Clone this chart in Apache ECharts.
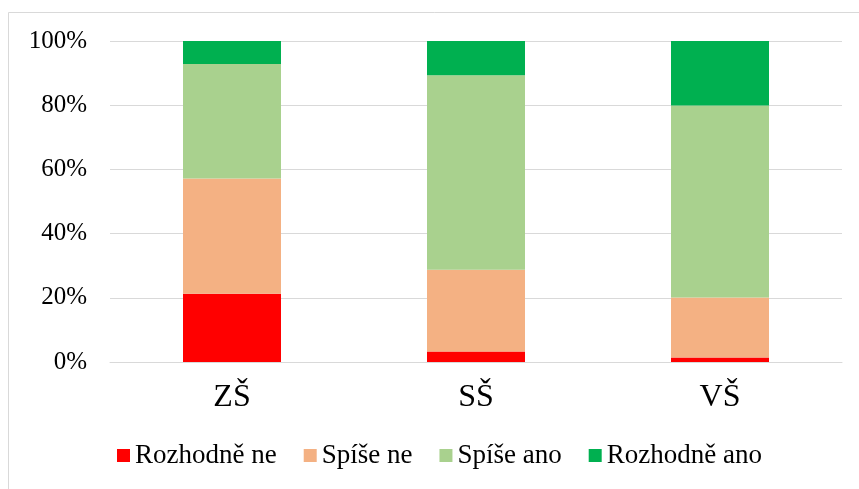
<!DOCTYPE html>
<html>
<head>
<meta charset="utf-8">
<script src="https://cdn.jsdelivr.net/npm/echarts@6/dist/echarts.min.js"></script>
<style>html,body{margin:0;padding:0;background:#fff}#c{width:859px;height:489px}</style>
</head>
<body>
<div id="c"></div>
<script>
const categories = ['ZŠ', 'SŠ', 'VŠ'];
const seriesNames = ['Rozhodně ne', 'Spíše ne', 'Spíše ano', 'Rozhodně ano'];
const rozhodneNe = [21.3, 3.3, 1.4];
const spiseNe = [35.9, 25.4, 18.7];
const spiseAno = [35.6, 60.6, 59.8];
const rozhodneAno = [7.2, 10.7, 20.1];
const yTicks = [0, 20, 40, 60, 80, 100];
const colors = ['#FF0000', '#F4B183', '#A9D18E', '#00B050'];
const values = [rozhodneNe, spiseNe, spiseAno, rozhodneAno];
const font = '"Liberation Serif", "Times New Roman", serif';

const chart = echarts.init(document.getElementById('c'), null, {renderer: 'canvas'});
chart.setOption({
  animation: false,
  backgroundColor: '#fff',
  textStyle: {fontFamily: font, color: '#000'},
  graphic: [{
    type: 'rect', silent: true,
    shape: {x: 8.5, y: 12.5, width: 1000, height: 1000},
    style: {fill: 'none', stroke: '#d9d9d9', lineWidth: 1}
  }],
  grid: {left: 110, right: 17, top: 41, bottom: 127, containLabel: false},
  legend: {
    data: seriesNames,
    left: 117, top: 442,
    itemWidth: 13, itemHeight: 13, itemGap: 27,
    icon: 'rect',
    padding: 0,
    textStyle: {fontFamily: font, fontSize: 27, color: '#000', padding: [0, 0, 0, 0]}
  },
  xAxis: {
    type: 'category',
    data: categories,
    axisLine: {show: true, lineStyle: {color: '#d9d9d9', width: 1}},
    axisTick: {show: false},
    axisLabel: {fontFamily: font, fontSize: 32, color: '#000', margin: 20}
  },
  yAxis: {
    type: 'value',
    min: 0, max: 100, interval: 20,
    axisLine: {show: false},
    axisTick: {show: false},
    splitLine: {show: true, lineStyle: {color: '#d9d9d9', width: 1}},
    axisLabel: {
      fontFamily: font, fontSize: 25, color: '#000', margin: 23,
      formatter: v => (yTicks.includes(v) ? v + '%' : '')
    }
  },
  series: seriesNames.map((name, i) => ({
    name: name,
    type: 'bar',
    stack: 'total',
    barWidth: 98,
    data: values[i],
    itemStyle: {color: colors[i]}
  }))
});
</script>
</body>
</html>
